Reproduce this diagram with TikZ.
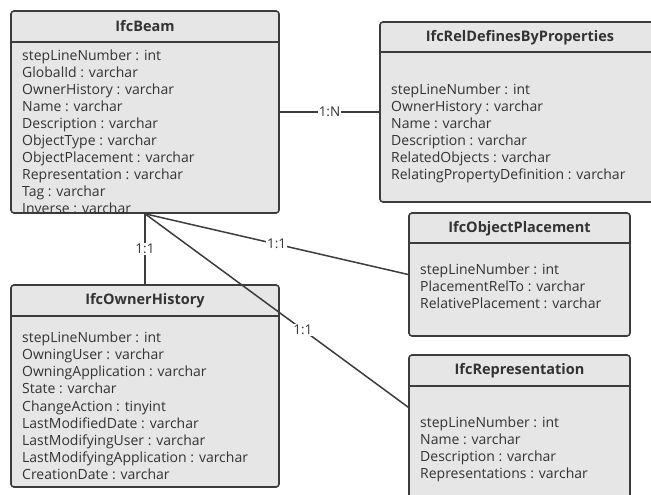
\documentclass[tikz,border=0pt]{standalone}
\usepackage{fontspec}
\setmainfont{Open Sans}
\usetikzlibrary{calc}
\definecolor{boxfill}{HTML}{E6E6E6}
\definecolor{boxline}{HTML}{3C3C3C}
\definecolor{ink}{HTML}{333333}
\tikzset{
  entity/.style={draw=boxline, fill=boxfill, line width=1.6pt, rounded corners=3pt, inner sep=0},
  header/.style={draw=boxline, line width=1.6pt},
  title/.style={font=\bfseries\fontsize{14.5}{16}\selectfont, text=ink, inner sep=0},
  attrs/.style={font=\fontsize{14}{17.05}\selectfont, text=ink, align=left, anchor=north west, inner sep=0},
  link/.style={draw=boxline, line width=1.5pt},
  card/.style={fill=white, font=\fontsize{13.5}{15}\selectfont, text=ink, inner sep=1pt}
}
\begin{document}
\begin{tikzpicture}[x=1pt,y=-1pt]
	\useasboundingbox (0,0) rectangle (651,495);
	\clip (0,0) rectangle (651,495);
	% boxes
	\node[entity, minimum width=268, minimum height=202] at (145,112) (beam) {};
	\node[entity, minimum width=280, minimum height=180] at (520,112) (relprops) {};
	\node[entity, minimum width=268, minimum height=202] at (145,386) (owner) {};
	\node[entity, minimum width=221, minimum height=123] at (519.5,274.5) (placement) {};
	\node[entity, minimum width=221, minimum height=155] at (519.5,432.5) (repr) {};
	\draw[header] ([yshift=-32pt]beam.north west) -- ([yshift=-32pt]beam.north east);
	\draw[header] ([yshift=-31pt]relprops.north west) -- ([yshift=-31pt]relprops.north east);
	\draw[header] ([yshift=-32pt]owner.north west) -- ([yshift=-32pt]owner.north east);
	\draw[header] ([yshift=-31pt]placement.north west) -- ([yshift=-31pt]placement.north east);
	\draw[header] ([yshift=-32pt]repr.north west) -- ([yshift=-32pt]repr.north east);
	% titles
	\node[title] at ([yshift=-16pt]beam.north) {IfcBeam};
	\node[title] at ([yshift=-16pt]relprops.north) {IfcRelDefinesByProperties};
	\node[title] at ([yshift=-16pt]owner.north) {IfcOwnerHistory};
	\node[title] at ([yshift=-16pt]placement.north) {IfcObjectPlacement};
	\node[title] at ([yshift=-16pt]repr.north) {IfcRepresentation};
	% attributes
	\node[attrs] at (22,49.5) {stepLineNumber : int\\GlobalId : varchar\\OwnerHistory : varchar\\Name : varchar\\Description : varchar\\ObjectType : varchar\\ObjectPlacement : varchar\\Representation : varchar\\Tag : varchar\\Inverse : varchar};
	\node[attrs] at (391,83.5) {stepLineNumber : int\\OwnerHistory : varchar\\Name : varchar\\Description : varchar\\RelatedObjects : varchar\\RelatingPropertyDefinition : varchar};
	\node[attrs] at (22,332) {stepLineNumber : int\\OwningUser : varchar\\OwningApplication : varchar\\State : varchar\\ChangeAction : tinyint\\LastModifiedDate : varchar\\LastModifyingUser : varchar\\LastModifyingApplication : varchar\\CreationDate : varchar};
	\node[attrs] at (420,263.5) {stepLineNumber : int\\PlacementRelTo : varchar\\RelativePlacement : varchar};
	\node[attrs] at (420,416.5) {stepLineNumber : int\\Name : varchar\\Description : varchar\\Representations : varchar};
	% relations
	\coordinate (reprin) at ([yshift=-53pt]repr.north west);
	\draw[link] (beam.east) -- node[card] {1:N} (relprops.west);
	\draw[link] (beam.south) -- node[card] {1:1} (owner.north);
	\draw[link] (beam.south) -- node[card] {1:1} (placement.west);
	\draw[link] (beam.south) -- node[card, pos=.6] {1:1} (reprin);
\end{tikzpicture}
\end{document}
